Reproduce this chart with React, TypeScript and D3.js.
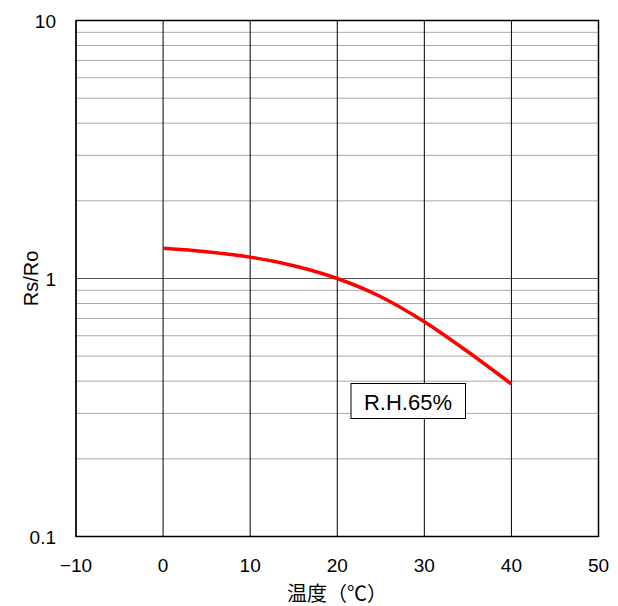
import React from "react";
import * as d3 from "d3";

const temps = [0, 5, 10, 15, 20, 25, 30, 35, 40];
const ratios = [1.31, 1.27, 1.21, 1.12, 1.0, 0.85, 0.68, 0.52, 0.39];
const xTicks = [-10, 0, 10, 20, 30, 40, 50];
const yTicks = [0.1, 1, 10];
const yTickLabels = ["0.1", "1", "10"];
const seriesLabel = "R.H.65%";

export default function App() {
  const W = 618, H = 606;
  const left = 76, right = 598.5, top = 20.5, bottom = 536.5;
  const x = d3.scaleLinear().domain([-10, 50]).range([left, right]);
  const y = d3.scaleLog().domain([0.1, 10]).range([bottom, top]);
  const minor: number[] = [];
  [0.1, 1].forEach((d) => {
    for (let k = 2; k <= 9; k++) minor.push(d * k);
  });
  const line = d3
    .line<number>()
    .x((_, i) => x(temps[i]))
    .y((d) => y(d))
    .curve(d3.curveMonotoneX);
  const font = "'Liberation Sans', Arial, 'Noto Sans CJK JP', sans-serif";
  return (
    <svg width={W} height={H} style={{ position: "absolute", left: 0, top: 0 }} fontFamily={font}>
      <rect x={0} y={0} width={W} height={H} fill="#fff" />
      {minor.map((v) => (
        <line key={v} x1={left} x2={right} y1={y(v)} y2={y(v)} stroke="#a8a8a8" strokeWidth={1} />
      ))}
      <line x1={left} x2={right} y1={y(1)} y2={y(1)} stroke="#555" strokeWidth={1} />
      {xTicks.map((t) => (
        <line key={t} x1={x(t)} x2={x(t)} y1={top} y2={bottom} stroke="#000" strokeWidth={1} />
      ))}
      <rect x={left} y={top} width={right - left} height={bottom - top} fill="none" stroke="#000" strokeWidth={1.5} />
      <path d={line(ratios) || ""} fill="none" stroke="#ff0000" strokeWidth={3.5} />
      <rect x={351} y={383.5} width={114.5} height={35} fill="#fff" stroke="#000" strokeWidth={1} />
      <text x={408} y={410} textAnchor="middle" fontSize={22}>{seriesLabel}</text>
      {yTicks.map((t, i) => (
        <text key={t} x={56} y={y(t) + 7} textAnchor="end" fontSize={19}>{yTickLabels[i]}</text>
      ))}
      {xTicks.map((t) => (
        <text key={t} x={x(t)} y={572} textAnchor="middle" fontSize={19}>{t < 0 ? "−" + Math.abs(t) : String(t)}</text>
      ))}
      <text x={337} y={601} textAnchor="middle" fontSize={20} fontFamily="'Noto Sans CJK JP', sans-serif">温度（℃）</text>
      <text transform={`translate(38,${y(1)}) rotate(-90)`} textAnchor="middle" fontSize={20}>Rs/Ro</text>
    </svg>
  );
}
